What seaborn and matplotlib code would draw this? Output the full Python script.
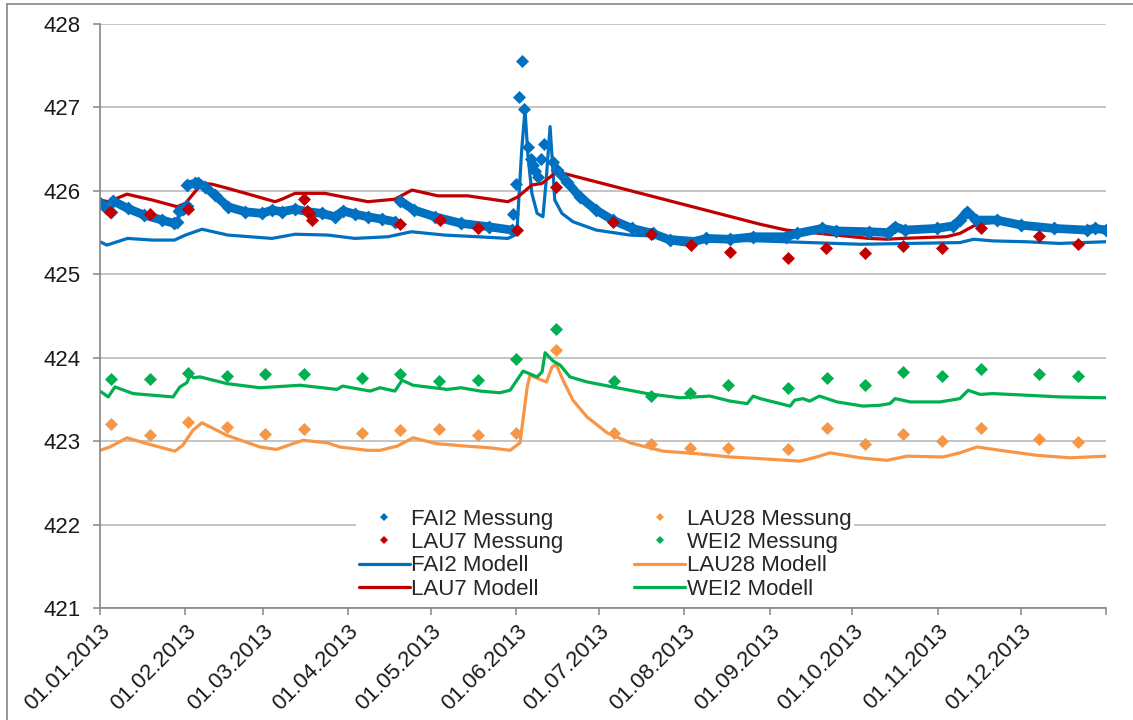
import numpy as np
import pandas as pd
import matplotlib
matplotlib.use('Agg')
import matplotlib.pyplot as plt
from matplotlib.lines import Line2D
import seaborn as sns

# days after 01.01.2013
mess_days = [4, 18, 32, 46, 60, 74, 95, 109, 123, 137, 151, 165.5, 186.5, 200, 214, 228,
             249.6, 263.8, 277.6, 291.4, 305.5, 319.7, 340.7, 354.9]
lau28_mess = [423.21, 423.07, 423.23, 423.17, 423.09, 423.15, 423.10, 423.13, 423.14, 423.07,
              423.10, 424.09, 423.10, 422.97, 422.92, 422.92, 422.90, 423.16, 422.97, 423.09,
              423.00, 423.16, 423.03, 422.99]
wei2_mess = [423.74, 423.74, 423.82, 423.78, 423.80, 423.81, 423.76, 423.80, 423.72, 423.73,
             423.98, 424.34, 423.72, 423.54, 423.58, 423.67, 423.64, 423.76, 423.67, 423.83,
             423.78, 423.86, 423.80, 423.78]

lau7_days = [3.6, 18, 32, 74, 75, 76, 77, 109, 123.4, 137, 151.3, 165.5, 186, 200, 214.4, 228.6,
             249.6, 263.4, 277.6, 291.4, 305.5, 319.7, 340.7, 354.9]
lau7_mess = [425.75, 425.72, 425.78, 425.90, 425.76, 425.73, 425.65, 425.60, 425.65, 425.55,
             425.53, 426.05, 425.63, 425.48, 425.35, 425.27, 425.20, 425.32, 425.26, 425.34,
             425.32, 425.56, 425.46, 425.36]

# FAI2 Messung: dense logger series (segments) + single readings during the flood
fai2_seg = [0] * 3 + [1] * 6 + [2] * 3 + [3] * 19 + [4] * 6 + [5] * 31
fai2_days = [0, 2, 4,
             4.7, 10, 16, 22.5, 27, 28,
             28.5, 30, 31.4,
             31.6, 34.5, 35.5, 38, 41.7, 46.4, 52.6, 58.8, 62.4, 66, 70.8, 75.5, 80.5, 85.3,
             88.2, 92.5, 97.2, 102.3, 107,
             108.9, 114, 121.5, 131, 141, 149.5,
             165.8, 169.4, 174, 180, 186, 193, 200.6, 206.8, 214, 220, 228.6, 237, 249, 253,
             262, 267, 279, 286, 288.5, 292, 303.7, 309.5, 312, 314.6, 318, 325.5, 334, 346,
             358, 361, 365]
fai2_mess = [425.86, 425.80, 425.75,
             425.88, 425.79, 425.71, 425.65, 425.61, 425.63,
             425.76, 425.78, 425.82,
             426.07, 426.09, 426.10, 426.05, 425.95, 425.81, 425.75, 425.73, 425.77, 425.75,
             425.78, 425.75, 425.73, 425.69, 425.76, 425.72, 425.69, 425.66, 425.63,
             425.88, 425.77, 425.69, 425.61, 425.57, 425.53,
             426.25, 426.11, 425.93, 425.77, 425.65, 425.55, 425.49, 425.41, 425.38, 425.43,
             425.42, 425.45, 425.45, 425.49, 425.55, 425.52, 425.51, 425.50, 425.57, 425.53,
             425.55, 425.58, 425.65, 425.75, 425.65, 425.65, 425.59, 425.55, 425.53, 425.55,
             425.53]
fai2_spike_days = [150, 151, 152, 153, 154, 155.3, 156.4, 157.2, 158, 159, 160, 161, 164.4]
fai2_spike = [425.72, 426.08, 427.12, 427.56, 426.98, 426.53, 426.38, 426.31, 426.24, 426.17,
              426.38, 426.56, 426.35]

fai2_mod_days = [0, 2.5, 10, 19, 27, 31, 37, 46.4, 62.4, 70.8, 82.7, 92.5, 104.5, 113, 125, 137,
                 148, 150.6, 151.3, 153, 154.2, 155.3, 156.7, 158.6, 160.7, 161.8, 163.3, 164.4,
                 165, 167.6, 171.6, 180, 192.3, 206.8, 222, 239.5, 275.8, 312, 317, 324,
                 336, 348, 365]
fai2_mod = [425.39, 425.35, 425.43, 425.41, 425.41, 425.47, 425.54, 425.47, 425.43, 425.48,
            425.47, 425.43, 425.45, 425.51, 425.47, 425.45, 425.43, 425.47, 425.53, 426.49,
            426.97, 426.41, 425.97, 425.73, 425.69, 426.09, 426.77, 426.21, 425.89, 425.73,
            425.63, 425.53, 425.47, 425.45, 425.41, 425.40, 425.36, 425.38, 425.42, 425.40,
            425.39, 425.37, 425.39]

lau7_mod_days = [0, 3, 9.8, 19, 28, 31, 37, 40.6, 46.4, 55, 63.5, 66, 70.8, 81.6, 87.8, 97.2,
                 107, 113.2, 122.6, 133.5, 148, 151.7, 156.7, 160.4, 165.8, 239.5, 249, 261,
                 279, 285.5, 291, 307, 312, 317, 320.4, 326, 345, 365]
lau7_mod = [425.89, 425.87, 425.96, 425.89, 425.81, 425.85, 426.09, 426.08, 426.03, 425.95,
            425.87, 425.90, 425.97, 425.97, 425.93, 425.87, 425.90, 426.01, 425.94, 425.94,
            425.87, 425.93, 426.07, 426.09, 426.23, 425.60, 425.53, 425.49, 425.43, 425.42,
            425.43, 425.45, 425.49, 425.58, 425.61, 425.63, 425.57, 425.53]

lau28_mod_days = [0, 3.6, 9.8, 17, 27.2, 30, 33.7, 37, 46, 58, 64, 70, 73.7, 82.4, 87, 97,
                  101.6, 107.8, 113.6, 122, 133, 141.5, 148.8, 152.4, 155, 156, 159.6, 162, 164,
                  165.5, 168, 171.6, 176.7, 184, 192.3, 204.3, 216.6, 228.6, 239.5, 254, 260,
                  264.9, 275.8, 285.5, 292.8, 305.9, 312, 318.2, 326.6, 340, 352, 365]
lau28_mod = [422.89, 422.93, 423.04, 422.97, 422.88, 422.95, 423.13, 423.22, 423.07, 422.93,
             422.90, 422.97, 423.01, 422.98, 422.93, 422.89, 422.89, 422.94, 423.04, 422.97,
             422.94, 422.92, 422.89, 422.98, 423.65, 423.79, 423.74, 423.71, 423.89, 423.92,
             423.73, 423.49, 423.29, 423.10, 422.98, 422.88, 422.85, 422.81, 422.79, 422.76,
             422.81, 422.86, 422.80, 422.77, 422.82, 422.81, 422.86, 422.93, 422.89, 422.83,
             422.80, 422.82]

wei2_mod_days = [0, 3, 5.4, 12, 26.5, 29, 31.5, 32.7, 34, 36.3, 46, 58, 72.6, 86, 88, 98, 101.6,
                 107, 109.6, 113.6, 126, 131, 138, 145, 148.8, 153.5, 158.6, 160.4, 161.5, 164.4,
                 167, 170.5, 176.7, 186, 198.5, 210.4, 221.3, 228.6, 234.8, 237, 239.5, 250.4,
                 252, 255, 257.5, 261, 267.4, 276.9, 283, 286.6, 288.5, 294, 304.8, 312, 315,
                 319.3, 324, 336.4, 348.3, 365]
wei2_mod = [423.60, 423.53, 423.65, 423.57, 423.53, 423.65, 423.70, 423.79, 423.76, 423.77,
            423.69, 423.64, 423.67, 423.62, 423.66, 423.60, 423.64, 423.60, 423.73, 423.67,
            423.62, 423.64, 423.60, 423.58, 423.61, 423.84, 423.77, 423.83, 424.06, 423.96,
            423.91, 423.77, 423.71, 423.65, 423.57, 423.52, 423.54, 423.48, 423.45, 423.54,
            423.51, 423.42, 423.49, 423.51, 423.48, 423.54, 423.47, 423.42, 423.43, 423.45,
            423.51, 423.47, 423.47, 423.51, 423.61, 423.56, 423.57, 423.55, 423.53, 423.52]

c_fai2, c_lau7, c_lau28, c_wei2 = '#0070C0', '#C00000', '#F79646', '#00B050'
start = pd.Timestamp('2013-01-01')


def to_dates(days):
    return start + pd.to_timedelta(np.array(days, dtype=float), unit='D')


sns.set_style('white')
plt.rcParams['font.family'] = ['Liberation Sans', 'DejaVu Sans']

fig = plt.figure(figsize=(11.33, 7.2), dpi=100)
ax = fig.add_axes([100 / 1133, 1 - 608 / 720, 1006 / 1133, 584 / 720])

# model lines first
lw_mod = 2.3
for days, vals, col in [(fai2_mod_days, fai2_mod, c_fai2),
                        (lau7_mod_days, lau7_mod, c_lau7),
                        (lau28_mod_days, lau28_mod, c_lau28),
                        (wei2_mod_days, wei2_mod, c_wei2)]:
    sns.lineplot(x=to_dates(days), y=vals, color=col, lw=lw_mod, ax=ax, zorder=2, legend=False)

# FAI2 logger band
df_fai2 = pd.DataFrame({'date': to_dates(fai2_days), 'val': fai2_mess, 'seg': fai2_seg})
sns.lineplot(data=df_fai2, x='date', y='val', units='seg', estimator=None, color=c_fai2,
             lw=6.3, ax=ax, zorder=3, legend=False)
sns.scatterplot(data=df_fai2, x='date', y='val', marker='D', color=c_fai2, s=50,
                linewidth=0, ax=ax, zorder=3, legend=False)
sns.scatterplot(x=to_dates(fai2_spike_days), y=fai2_spike, marker='D', color=c_fai2, s=44,
                linewidth=0, ax=ax, zorder=3, legend=False)

for days, vals, col in [(lau7_days, lau7_mess, c_lau7),
                        (mess_days, lau28_mess, c_lau28),
                        (mess_days, wei2_mess, c_wei2)]:
    sns.scatterplot(x=to_dates(days), y=vals, marker='D', color=col, s=44, linewidth=0,
                    ax=ax, zorder=4, legend=False)

ax.set_xlim(start, pd.Timestamp('2014-01-01'))
ax.set_ylim(421, 428)
ax.set_yticks(range(421, 429))
month_ticks = pd.date_range('2013-01-01', '2014-01-01', freq='MS')
ax.set_xticks(month_ticks)
ax.set_xticklabels([d.strftime('%d.%m.%Y') for d in month_ticks[:-1]] + [''],
                   rotation=45, ha='right', va='top', rotation_mode='anchor')
ax.set_xlabel('')
ax.set_ylabel('')
ax.grid(axis='y', color='#B4B4B4', lw=1.1)
ax.grid(axis='x', visible=False)
for s in ['top', 'right']:
    ax.spines[s].set_visible(False)
for s in ['left', 'bottom']:
    ax.spines[s].set_color('#868686')
    ax.spines[s].set_linewidth(1.2)
    ax.spines[s].set_zorder(6)
ax.tick_params(axis='both', direction='out', length=5, width=1.1, color='#868686',
               labelsize=16, labelcolor='#1a1a1a', left=True, bottom=True)
ax.tick_params(axis='y', pad=9)
ax.tick_params(axis='x', pad=4)

handles = [
    Line2D([], [], ls='none', marker='D', ms=4.5, mew=0, color=c_fai2, label='FAI2 Messung'),
    Line2D([], [], ls='none', marker='D', ms=4.5, mew=0, color=c_lau7, label='LAU7 Messung'),
    Line2D([], [], color=c_fai2, lw=lw_mod, label='FAI2 Modell'),
    Line2D([], [], color=c_lau7, lw=lw_mod, label='LAU7 Modell'),
    Line2D([], [], ls='none', marker='D', ms=4.5, mew=0, color=c_lau28, label='LAU28 Messung'),
    Line2D([], [], ls='none', marker='D', ms=4.5, mew=0, color=c_wei2, label='WEI2 Messung'),
    Line2D([], [], color=c_lau28, lw=lw_mod, label='LAU28 Modell'),
    Line2D([], [], color=c_wei2, lw=lw_mod, label='WEI2 Modell'),
]
leg = ax.legend(handles=handles, ncol=2, loc='center', bbox_to_anchor=(0.502, 0.092),
                frameon=True, fontsize=16, handlelength=2.3, handletextpad=0.05,
                columnspacing=3.2, labelspacing=0.1, borderpad=0.12)
leg.get_frame().set_facecolor('white')
leg.get_frame().set_edgecolor('none')
leg.get_frame().set_alpha(1)
leg.set_zorder(5)

# chart-area border (left and top)
fig.add_artist(Line2D([7 / 1133, 7 / 1133], [0, 1 - 4 / 720], color='#868686', lw=1.2))
fig.add_artist(Line2D([7 / 1133, 1], [1 - 4 / 720, 1 - 4 / 720], color='#868686', lw=1.2))

fig.savefig('out.png', dpi=100, facecolor='white')
